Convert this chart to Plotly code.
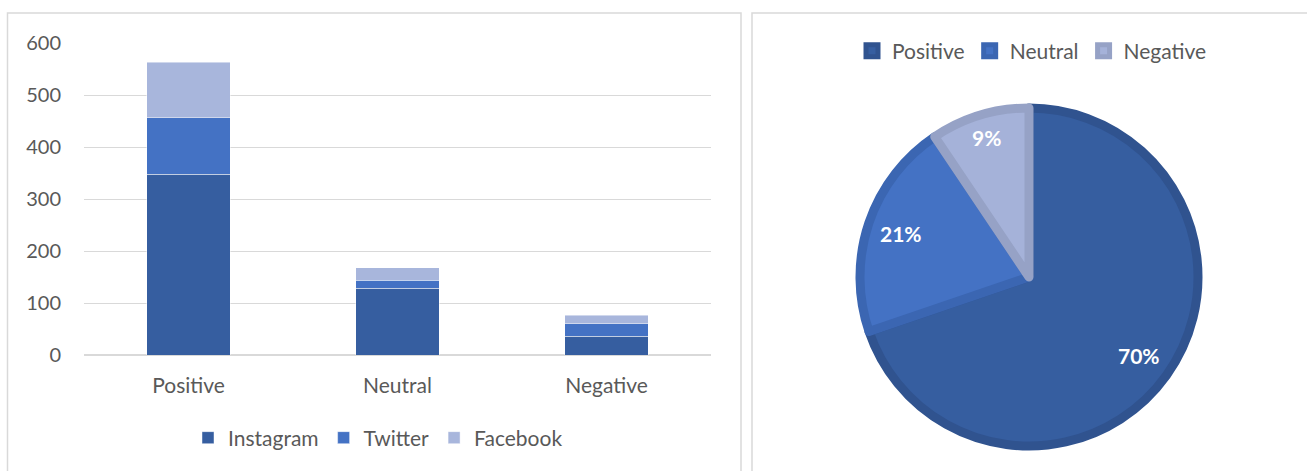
import math
import plotly.graph_objects as go

categories = ["Positive", "Neutral", "Negative"]
instagram = [348, 128, 36]
twitter = [108, 16, 24]
facebook = [107, 24, 16]
sentiment_totals = [563, 168, 76]

bar_colors = {"Instagram": "#365ea0", "Twitter": "#4472c4", "Facebook": "#a8b6dc"}
pie_colors = ["#365ea0", "#4472c4", "#a5b2d9"]
pie_border = ["#30538f", "#3b66b2", "#96a2c6"]

FONT = "Lato"
GREY = "#595959"
W, H = 1307, 471

fig = go.Figure()
for name, vals in [("Instagram", instagram), ("Twitter", twitter), ("Facebook", facebook)]:
    fig.add_trace(go.Bar(
        x=categories, y=vals, name=name, width=0.4,
        marker=dict(color=bar_colors[name], line=dict(color="rgba(255,255,255,0.45)", width=1)),
        legend="legend",
    ))

# pie geometry (layout, pixels)
pcx, pcy, pr = 1029, 277, 169
fig.add_trace(go.Pie(
    labels=categories, values=sentiment_totals, sort=False, direction="clockwise", rotation=0,
    marker=dict(colors=pie_colors, line=dict(color=pie_border, width=9)),
    textinfo="none",
    domain=dict(x=[(pcx - pr) / W, (pcx + pr) / W], y=[(H - pcy - pr) / H, (H - pcy + pr) / H]),
    legend="legend2", hoverinfo="label+percent",
))

# percentage labels placed along each slice's mid-angle
annotations = []
total = sum(sentiment_totals)
cum = 0
for v in sentiment_totals:
    mid = (cum + v / 2) / total * 2 * math.pi
    cum += v
    frac = v / total
    rr = pr * (0.80 if frac > 0.15 else 0.86)
    x = pcx + rr * math.sin(mid)
    y = pcy - rr * math.cos(mid)
    annotations.append(dict(x=x / W, y=(H - y) / H, xref="paper", yref="paper",
                            xanchor="center", yanchor="middle",
                            text=f"<b>{round(frac * 100)}%</b>", showarrow=False,
                            font=dict(color="white", size=21, family=FONT)))

fig.update_layout(
    width=W, height=H,
    margin=dict(l=0, r=0, t=0, b=0, autoexpand=False),
    paper_bgcolor="white", plot_bgcolor="white",
    barmode="stack",
    font=dict(family=FONT, size=20, color=GREY),
    xaxis=dict(domain=[84 / W, 711 / W], showgrid=False, showline=False, zeroline=False,
               ticks="", tickfont=dict(size=21, color=GREY), ticklabelstandoff=16),
    yaxis=dict(domain=[116 / H, 428 / H], range=[0, 600], dtick=100, showgrid=True,
               gridcolor="#d9d9d9", gridwidth=1, zeroline=True, zerolinecolor="#d9d9d9",
               showline=False, ticks="", tickfont=dict(size=20, color=GREY), ticklabelstandoff=22),
    legend=dict(orientation="h", x=378 / W, xanchor="center", y=(H - 438) / H, yanchor="middle",
                font=dict(size=21, color=GREY), traceorder="normal", itemwidth=30,
                bgcolor="rgba(0,0,0,0)"),
    legend2=dict(orientation="h", x=1032 / W, xanchor="center", y=(H - 51) / H, yanchor="middle",
                 font=dict(size=21, color=GREY), bgcolor="rgba(0,0,0,0)", itemwidth=30),
    annotations=annotations,
    shapes=[
        dict(type="rect", xref="paper", yref="paper", x0=7.5 / W, x1=741 / W, y0=-0.05, y1=(H - 13) / H,
             line=dict(color="#d9d9d9", width=1.5), layer="below"),
        dict(type="rect", xref="paper", yref="paper", x0=752 / W, x1=1.02, y0=-0.05, y1=(H - 13) / H,
             line=dict(color="#d9d9d9", width=1.5), layer="below"),
    ],
)

fig.write_html("out.html")
